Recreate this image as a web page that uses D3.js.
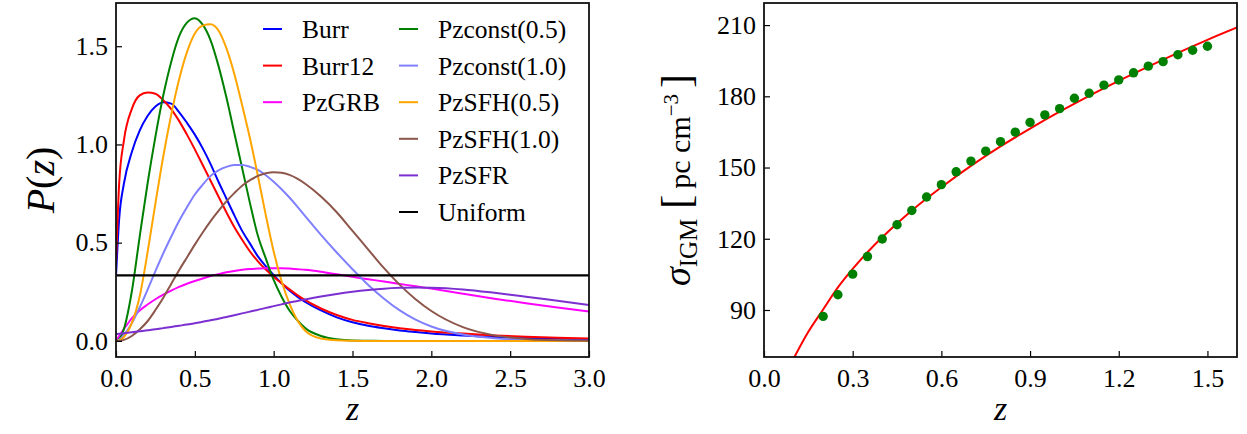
<!DOCTYPE html>
<html>
<head>
<meta charset="utf-8">
<script src="https://cdn.jsdelivr.net/npm/d3@7"></script>
<style>
  body { margin: 0; background: #fff; }
  text { font-family: "Liberation Serif", "DejaVu Serif", serif; }
</style>
</head>
<body>
<div id="chart"></div>
<script>
// redshift grid shared by all P(z) curves (left panel)
var zGrid = [0, 0.02, 0.05, 0.1, 0.15, 0.2, 0.25, 0.3, 0.35, 0.4, 0.45, 0.5, 0.55, 0.6, 0.65, 0.7, 0.75, 0.8, 0.85, 0.9, 0.95,
             1.0, 1.05, 1.1, 1.15, 1.2, 1.3, 1.4, 1.5, 1.6, 1.7, 1.8, 1.9, 2.0, 2.2, 2.4, 2.6, 2.8, 3.0];

var burr      = [0.33, 0.62, 0.80, 0.96, 1.07, 1.145, 1.193, 1.215, 1.208, 1.165, 1.11, 1.05, 0.98, 0.90, 0.81, 0.725, 0.64, 0.56, 0.495, 0.43, 0.38,
                 0.335, 0.293, 0.256, 0.225, 0.198, 0.155, 0.12, 0.095, 0.077, 0.064, 0.053, 0.045, 0.038, 0.028, 0.02, 0.015, 0.011, 0.008];
var burr12    = [0.40, 0.80, 1.02, 1.18, 1.25, 1.265, 1.258, 1.225, 1.18, 1.12, 1.05, 0.975, 0.895, 0.815, 0.735, 0.655, 0.58, 0.515, 0.455, 0.405, 0.363,
                 0.327, 0.293, 0.262, 0.233, 0.207, 0.165, 0.132, 0.107, 0.09, 0.076, 0.064, 0.055, 0.048, 0.037, 0.028, 0.021, 0.016, 0.012];
var pzGRB     = [0, 0.025, 0.06, 0.115, 0.155, 0.185, 0.212, 0.235, 0.256, 0.275, 0.291, 0.305, 0.318, 0.33, 0.34, 0.349, 0.356, 0.362, 0.366, 0.368, 0.37,
                 0.37, 0.37, 0.368, 0.365, 0.362, 0.352, 0.339, 0.326, 0.314, 0.302, 0.29, 0.278, 0.266, 0.24, 0.215, 0.192, 0.17, 0.15];
var pzConst05 = [0, 0.008, 0.06, 0.25, 0.53, 0.80, 1.04, 1.25, 1.42, 1.55, 1.62, 1.643, 1.61, 1.53, 1.40, 1.24, 1.06, 0.88, 0.70, 0.535, 0.42,
                 0.31, 0.225, 0.155, 0.105, 0.065, 0.025, 0.008, 0.002, 0.001, 0, 0, 0, 0, 0, 0, 0, 0, 0];
var pzConst10 = [0, 0.005, 0.03, 0.09, 0.17, 0.26, 0.355, 0.446, 0.53, 0.61, 0.68, 0.745, 0.795, 0.84, 0.868, 0.886, 0.895, 0.895, 0.886, 0.87, 0.843,
                 0.81, 0.772, 0.73, 0.684, 0.635, 0.54, 0.45, 0.365, 0.285, 0.215, 0.155, 0.108, 0.073, 0.032, 0.013, 0.005, 0.002, 0.001];
var pzSFH05   = [0, 0.002, 0.02, 0.09, 0.226, 0.45, 0.70, 0.94, 1.15, 1.33, 1.47, 1.565, 1.605, 1.612, 1.58, 1.49, 1.36, 1.20, 1.03, 0.84, 0.64,
                 0.455, 0.305, 0.19, 0.105, 0.052, 0.012, 0.003, 0.001, 0, 0, 0, 0, 0, 0, 0, 0, 0, 0];
var pzSFH10   = [0, 0, 0.005, 0.025, 0.058, 0.10, 0.157, 0.22, 0.29, 0.36, 0.425, 0.49, 0.552, 0.61, 0.662, 0.71, 0.752, 0.79, 0.818, 0.84, 0.853,
                 0.859, 0.856, 0.845, 0.826, 0.80, 0.735, 0.655, 0.56, 0.465, 0.37, 0.285, 0.212, 0.152, 0.07, 0.028, 0.01, 0.003, 0.001];
var pzSFR     = [0.034, 0.036, 0.039, 0.044, 0.049, 0.054, 0.059, 0.065, 0.071, 0.077, 0.083, 0.09, 0.097, 0.105, 0.113, 0.122, 0.131, 0.14, 0.149, 0.158, 0.168,
                 0.177, 0.186, 0.195, 0.203, 0.211, 0.226, 0.239, 0.25, 0.259, 0.266, 0.27, 0.272, 0.271, 0.262, 0.245, 0.225, 0.204, 0.183];
var uniformZ = [0, 3];
var uniform  = [1/3, 1/3];

var seriesNames  = ["Burr", "Burr12", "PzGRB", "Pzconst(0.5)", "Pzconst(1.0)", "PzSFH(0.5)", "PzSFH(1.0)", "PzSFR", "Uniform"];
var seriesColors = ["#0000ff", "#ff0000", "#ff00ff", "#008000", "#8080ff", "#ffa500", "#8c564b", "#7b2fd0", "#000000"];

// sigma_IGM points and fitted curve (right panel)
var sigZ   = [0.2, 0.25, 0.3, 0.35, 0.4, 0.45, 0.5, 0.55, 0.6, 0.65, 0.7, 0.75, 0.8, 0.85, 0.9, 0.95, 1.0, 1.05, 1.1, 1.15, 1.2, 1.25, 1.3, 1.35, 1.4, 1.45, 1.5];
var sigIGM = [87.3, 96.4, 105.1, 112.5, 119.9, 125.9, 131.9, 137.6, 142.8, 148.2, 152.7, 156.9, 160.9, 164.9, 169.0, 172.2, 174.8, 179.2, 181.3, 184.7, 186.9, 189.9, 192.7, 194.6, 197.5, 199.4, 201.1];
var fitZ   = [0.1, 0.15, 0.2, 0.25, 0.3, 0.35, 0.4, 0.45, 0.5, 0.6, 0.7, 0.8, 0.9, 1.0, 1.1, 1.2, 1.3, 1.4, 1.5, 1.6];
var fitSig = [69.5, 80.8, 90.2, 99.5, 107.3, 114.3, 120.6, 126.4, 131.9, 141.7, 150.7, 158.9, 166.4, 173.5, 180.2, 186.5, 192.5, 198.3, 203.8, 209.0];

var leftXTicks  = [0, 0.5, 1.0, 1.5, 2.0, 2.5, 3.0];
var leftYTicks  = [0, 0.5, 1.0, 1.5];
var rightXTicks = [0, 0.3, 0.6, 0.9, 1.2, 1.5];
var rightYTicks = [90, 120, 150, 180, 210];

var W = 1247, H = 434;
var plotTop = 3, plotBottom = 357;
var tickFont = 26;

var svg = d3.select("#chart").append("svg")
    .attr("width", W)
    .attr("height", H);

// helper to draw a framed panel with inward ticks
function panel(id, x0, x1, xdom, ydom, xticks, yticks, xfmt, yfmt) {
  var x = d3.scaleLinear().domain(xdom).range([x0, x1]);
  var y = d3.scaleLinear().domain(ydom).range([plotBottom, plotTop]);

  svg.append("clipPath").attr("id", id)
    .append("rect")
      .attr("x", x0).attr("y", plotTop)
      .attr("width", x1 - x0).attr("height", plotBottom - plotTop);

  var g = svg.append("g");

  var xa = svg.append("g")
    .attr("transform", "translate(0," + plotBottom + ")")
    .call(d3.axisBottom(x).tickValues(xticks).tickFormat(xfmt).tickSize(-6).tickPadding(12));
  var ya = svg.append("g")
    .attr("transform", "translate(" + x0 + ",0)")
    .call(d3.axisLeft(y).tickValues(yticks).tickFormat(yfmt).tickSize(-6).tickPadding(8));
  [xa, ya].forEach(function(a) {
    a.select(".domain").remove();
    a.attr("font-family", null).attr("font-size", tickFont);
    a.selectAll("line").attr("stroke", "#000").attr("stroke-width", 1.2);
    a.selectAll("text").attr("fill", "#000");
  });

  return {x: x, y: y, g: g, frame: function() {
    svg.append("rect")
      .attr("x", x0).attr("y", plotTop)
      .attr("width", x1 - x0).attr("height", plotBottom - plotTop)
      .attr("fill", "none")
      .attr("stroke", "#111")
      .attr("stroke-width", 1.8);
  }};
}

//*****LEFT PANEL: P(z)*****//
var L = panel("clipL", 116, 589, [0, 3], [-0.082, 1.72], leftXTicks, leftYTicks, d3.format(".1f"), d3.format(".1f"));

var leftSeries = [burr, burr12, pzGRB, pzConst05, pzConst10, pzSFH05, pzSFH10, pzSFR];
var lineL = d3.line()
  .x(function(d) { return L.x(d[0]); })
  .y(function(d) { return L.y(d[1]); })
  .curve(d3.curveMonotoneX);

leftSeries.forEach(function(vals, i) {
  L.g.append("path")
    .datum(zGrid.map(function(z, j) { return [z, vals[j]]; }))
    .attr("clip-path", "url(#clipL)")
    .attr("fill", "none")
    .attr("stroke", seriesColors[i])
    .attr("stroke-width", 2)
    .attr("d", lineL);
});

L.g.append("path")
  .datum(uniformZ.map(function(z, j) { return [z, uniform[j]]; }))
  .attr("fill", "none")
  .attr("stroke", seriesColors[8])
  .attr("stroke-width", 2.2)
  .attr("d", lineL);

L.frame();

// legend, two columns, no box
var legend = svg.append("g").attr("font-size", 25.5);
seriesNames.forEach(function(name, i) {
  var col = i < 3 ? 0 : 1;
  var row = i < 3 ? i : i - 3;
  var lx = col == 0 ? 263 : 399;
  var ly = 29 + row * 36.6;
  legend.append("line")
    .attr("x1", lx).attr("x2", lx + 19)
    .attr("y1", ly).attr("y2", ly)
    .attr("stroke", seriesColors[i])
    .attr("stroke-width", 2);
  legend.append("text")
    .attr("x", lx + 39)
    .attr("y", ly + 9)
    .text(name);
});

// axis labels
svg.append("text")
  .attr("x", 352.5).attr("y", 420)
  .attr("text-anchor", "middle")
  .attr("font-size", 34)
  .attr("font-style", "italic")
  .text("z");

var pl = svg.append("text")
  .attr("transform", "translate(54,180) rotate(-90)")
  .attr("text-anchor", "middle")
  .attr("font-size", 40);
pl.append("tspan").attr("font-style", "italic").text("P");
pl.append("tspan").text("(");
pl.append("tspan").attr("font-style", "italic").text("z");
pl.append("tspan").text(")");

//*****RIGHT PANEL: sigma_IGM*****//
var R = panel("clipR", 764, 1237, [0, 1.6], [70.2, 219.3], rightXTicks, rightYTicks, d3.format(".1f"), d3.format("d"));

R.g.append("path")
  .datum(fitZ.map(function(z, j) { return [z, fitSig[j]]; }))
  .attr("clip-path", "url(#clipR)")
  .attr("fill", "none")
  .attr("stroke", "#ff0000")
  .attr("stroke-width", 2)
  .attr("d", d3.line()
    .x(function(d) { return R.x(d[0]); })
    .y(function(d) { return R.y(d[1]); })
    .curve(d3.curveMonotoneX));

R.g.selectAll("circle")
  .data(sigZ)
  .enter()
  .append("circle")
    .attr("cx", function(d) { return R.x(d); })
    .attr("cy", function(d, i) { return R.y(sigIGM[i]); })
    .attr("r", 4.7)
    .style("fill", "#008000");

R.frame();

svg.append("text")
  .attr("x", 1000.5).attr("y", 420)
  .attr("text-anchor", "middle")
  .attr("font-size", 34)
  .attr("font-style", "italic")
  .text("z");

var sl = svg.append("text")
  .attr("transform", "translate(690,180) rotate(-90)")
  .attr("text-anchor", "middle")
  .attr("font-size", 30);
sl.append("tspan").attr("font-style", "italic").attr("font-size", 38).text("σ");
sl.append("tspan").attr("font-size", 25).attr("dy", 7).text("IGM");
sl.append("tspan").attr("font-size", 42).attr("dy", -7).attr("dx", 10).text("[");
sl.append("tspan").attr("dx", 6).text("pc cm");
sl.append("tspan").attr("font-size", 21).attr("dy", -12).text("−3");
sl.append("tspan").attr("font-size", 42).attr("dy", 12).attr("dx", 6).text("]");
</script>
</body>
</html>
